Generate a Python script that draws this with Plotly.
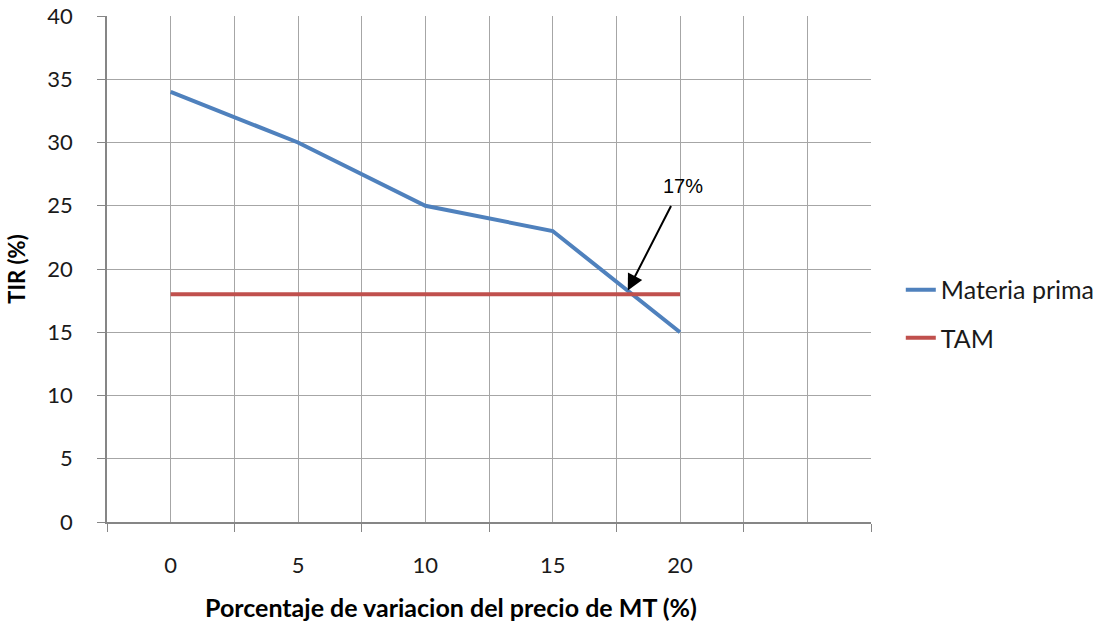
import plotly.graph_objects as go

categories = ["0", "5", "10", "15", "20"]
materia_prima = [34, 30, 25, 23, 15]
tam = [18, 18, 18, 18, 18]
y_ticks = [0, 5, 10, 15, 20, 25, 30, 35, 40]

xpos = list(range(len(categories)))

BLUE = "#4F81BD"
RED = "#C0504D"
GRID = "#A6A6A6"
AXIS = "#868686"
FONT = "Lato"
TXT = "#1a1a1a"

fig = go.Figure()
fig.add_trace(go.Scatter(x=xpos, y=materia_prima, mode="lines", name="Materia prima",
                         line=dict(color=BLUE, width=4), legend="legend"))
fig.add_trace(go.Scatter(x=xpos, y=tam, mode="lines", name="TAM",
                         line=dict(color=RED, width=4), legend="legend2"))

fig.add_annotation(x=3.59, y=18.3, xref="x", yref="y", text="", showarrow=True,
                   arrowhead=2, arrowsize=1.6, arrowwidth=2, arrowcolor="black",
                   ax=44, ay=-86)
fig.add_annotation(x=4.02, y=26.6, xref="x", yref="y", text="17%", showarrow=False,
                   font=dict(family="Liberation Sans", size=20, color="#000000"))
fig.add_annotation(x=0.450, y=-0.168, xref="paper", yref="paper", yanchor="middle",
                   text="<b>Porcentaje de variacion del precio de MT (%)</b>", showarrow=False,
                   font=dict(family=FONT, size=25, color="#000000"))

legend_common = dict(xanchor="left", yanchor="middle",
                     font=dict(family=FONT, size=25, color=TXT), bgcolor="rgba(0,0,0,0)")

fig.update_layout(
    width=1103, height=625,
    margin=dict(l=107, r=232, t=16, b=103, autoexpand=False),
    plot_bgcolor="white", paper_bgcolor="white",
    showlegend=True,
    font=dict(family=FONT, color=TXT, size=22),
    legend=dict(x=1.039, y=0.4585, **legend_common),
    legend2=dict(x=1.039, y=0.3636, **legend_common),
    xaxis=dict(
        range=[-0.5, 5.5], automargin=False,
        tickvals=xpos + [5], ticktext=categories + [""],
        ticks="", showgrid=True, gridcolor=GRID, gridwidth=1,
        showline=True, linecolor=AXIS, linewidth=1.5,
        zeroline=False, ticklabelstandoff=23,
        tickfont=dict(family=FONT, size=22, color=TXT),
        minor=dict(tick0=-0.5, dtick=1, ticks="outside", ticklen=8, tickcolor=AXIS,
                   showgrid=True, gridcolor=GRID, gridwidth=1),
    ),
    yaxis=dict(
        range=[0, 40], tickvals=y_ticks, automargin=False,
        ticks="outside", ticklen=8, tickcolor=AXIS,
        showgrid=True, gridcolor=GRID, gridwidth=1,
        showline=True, linecolor=AXIS, linewidth=1.5,
        zeroline=False, ticklabelstandoff=20,
        tickfont=dict(family=FONT, size=22, color=TXT),
        title=dict(text="<b>TIR (%)</b>", font=dict(family=FONT, size=22, color="#000000"),
                   standoff=16),
    ),
)

fig.write_html("out.html")
